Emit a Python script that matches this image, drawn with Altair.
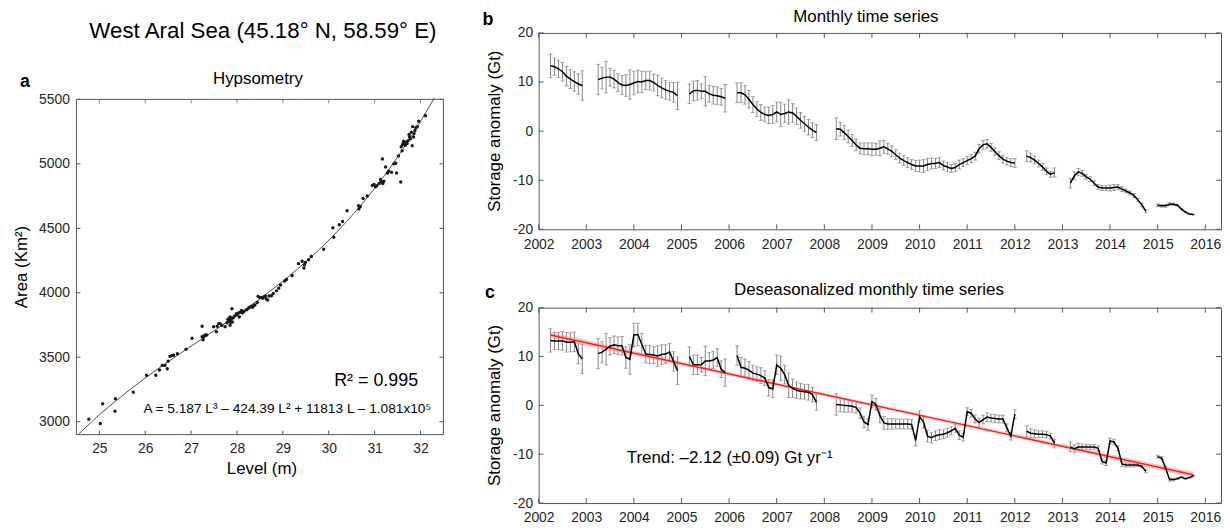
import altair as alt
import pandas as pd

FONT = "Liberation Sans"
INK = "#262626"
BOX = "#555555"
GRAY = "#858585"

# ---------------- panel a : hypsometry ----------------
LEVEL = [24.77, 25.02, 25.07, 25.34, 25.35, 25.74, 26.03, 26.23, 26.31, 26.37,
         26.43, 26.48, 26.50, 26.54, 26.59, 26.70, 26.89, 27.02, 27.24, 27.24,
         27.27, 27.26, 27.31, 27.34, 27.49, 27.55, 27.60, 27.63, 27.67, 27.74,
         27.78, 27.80, 27.83, 27.85, 27.85, 27.87, 27.89, 27.90, 27.92, 27.99,
         28.03, 28.05, 28.10, 28.15, 28.21, 28.28, 28.32, 28.34, 28.39, 28.46,
         28.50, 28.54, 28.59, 28.64, 28.67, 28.75, 28.79, 28.86, 28.91, 28.95,
         29.04, 29.08, 29.20, 29.34, 29.42, 29.46, 29.47, 29.56, 29.62, 29.89,
         30.09, 30.11, 30.23, 30.30, 30.40, 30.65, 30.66, 30.75, 30.84, 30.95,
         30.99, 31.02, 31.10, 31.13, 31.17, 31.18, 31.20, 31.24, 31.28, 31.31,
         31.37, 31.42, 31.46, 31.48, 31.52, 31.57, 31.58, 31.60, 31.63, 31.66,
         31.67, 31.71, 31.75, 31.78, 31.80, 31.82, 31.83, 31.85, 31.88, 31.93,
         31.96, 32.11,
         27.82, 27.86, 27.88, 27.95, 28.00, 28.07, 28.12, 28.25, 28.36, 28.44,
         28.56, 28.62, 28.70, 31.61, 31.64, 31.69, 31.73, 31.76, 31.86, 31.90,
         29.49, 30.69, 31.05, 31.15, 26.62, 27.28, 27.57]
AREA = [3020, 2987, 3140, 3081, 3178, 3228, 3360, 3360, 3401, 3437,
        3437, 3411, 3470, 3508, 3513, 3528, 3563, 3647, 3741, 3660,
        3655, 3635, 3673, 3673, 3736, 3698, 3761, 3761, 3749, 3736,
        3767, 3794, 3802, 3812, 3749, 3792, 3876, 3774, 3807, 3837,
        3843, 3812, 3863, 3855, 3868, 3888, 3893, 3888, 3906, 3972,
        3964, 3964, 3969, 3952, 3944, 3977, 3995, 4015, 4036, 4061,
        4091, 4104, 4134, 4226, 4244, 4193, 4218, 4256, 4282, 4338,
        4505, 4431, 4528, 4553, 4637, 4675, 4650, 4731, 4751, 4832,
        4840, 4822, 4848, 4878, 5038, 4848, 4865, 4975, 4929, 4942,
        4934, 5000, 5005, 4929, 5061, 4860, 5132, 5101, 5175, 5162,
        5145, 5157, 5228, 5195, 5246, 5140, 5289, 5208, 5259, 5289,
        5330, 5373,
        3780, 3770, 3800, 3820, 3830, 3850, 3845, 3880, 3900, 3925,
        3958, 3975, 3975, 5150, 5165, 5170, 5180, 5210, 5235, 5280,
        4235, 4670, 4830, 4860, 3515, 3665, 3740]
A_XTICKS = [25, 26, 27, 28, 29, 30, 31, 32]
A_YTICKS = [3000, 3500, 4000, 4500, 5000, 5500]
A_XRANGE = [24.5, 32.5]
A_YRANGE = [2900, 5500]

# ---------------- panels b, c : storage anomaly ----------------
SEG_START = [(2002, 4), (2003, 4), (2005, 3), (2006, 3), (2008, 4), (2012, 4), (2013, 3), (2015, 1)]
MONTHLY = [
    [13.3, 13.1, 12.7, 12.1, 11.2, 10.6, 10.1, 9.6, 9.3],
    [10.5, 10.8, 11.0, 11.0, 10.6, 9.9, 9.4, 9.3, 9.5, 9.8, 10.1, 10.0, 10.3, 10.3, 9.9, 9.3, 8.8, 8.4, 8.1, 7.9, 7.2],
    [7.6, 8.2, 8.3, 8.1, 8.1, 7.6, 7.3, 7.2, 7.0, 6.7],
    [7.8, 7.8, 7.4, 6.5, 5.4, 4.5, 3.8, 3.4, 3.2, 3.4, 3.9, 3.4, 3.6, 3.9, 3.7, 3.0, 2.2, 1.5, 0.8, 0.2, -0.3],
    [0.5, 0.4, -0.3, -1.1, -1.9, -2.8, -3.5, -3.6, -3.6,
     -3.7, -3.7, -3.5, -3.2, -3.6, -4.1, -4.8, -5.5, -6.0, -6.4, -6.8, -7.1,
     -7.1, -7.1, -6.8, -6.6, -6.6, -6.4, -7.0, -7.3, -7.6, -7.4, -6.8, -6.4,
     -6.0, -5.6, -5.1, -3.6, -2.8, -2.6, -3.3, -4.2, -5.0, -5.7, -6.1, -6.4,
     -6.5],
    [-5.1, -5.4, -5.9, -6.6, -7.3, -8.2, -8.8, -8.4],
    [-10.6, -9.1, -8.3, -8.6, -9.3, -9.8, -10.6, -11.4, -11.6, -11.6,
     -11.6, -11.5, -11.4, -11.8, -12.2, -12.6, -13.1, -14.0, -15.0, -16.3],
    [-15.1, -15.2, -15.2, -14.9, -14.9, -15.1, -15.9, -16.5, -16.9, -17.0],
]
DESEAS = [
    [13.3, 13.2, 13.2, 13.2, 12.9, 12.9, 13.0, 10.6, 9.5],
    [10.6, 10.9, 11.5, 12.1, 12.4, 12.2, 12.2, 9.8, 9.4, 14.4, 14.5, 12.5, 10.5, 10.4, 10.3, 10.1, 10.4, 10.5, 10.9, 9.0, 7.1],
    [10.0, 8.3, 8.3, 8.3, 9.1, 9.1, 9.3, 9.8, 7.4, 6.7],
    [10.2, 7.8, 7.6, 7.2, 6.6, 6.4, 6.1, 5.6, 3.6, 3.4, 8.3, 7.6, 6.3, 4.1, 3.5, 3.1, 2.9, 2.8, 2.7, 2.2, 0.6],
    [0.2, 0.1, 0.0, -0.1, -0.2, -0.4, -1.6, -3.4, -3.9,
     0.8, 0.2, -2.1, -3.6, -3.8, -3.8, -3.8, -3.8, -3.8, -3.8, -3.9, -7.2,
     -2.3, -3.4, -6.3, -6.6, -6.2, -6.0, -5.9, -5.6, -5.2, -4.7, -6.1, -6.5,
     -1.3, -1.6, -2.8, -3.5, -2.9, -2.4, -2.6, -2.7, -2.8, -2.8, -4.6, -6.3,
     -1.8],
    [-5.3, -5.7, -5.8, -5.9, -5.9, -6.0, -6.3, -7.8],
    [-8.5, -8.9, -8.5, -8.5, -8.5, -8.5, -8.5, -8.8, -11.5, -11.8,
     -7.3, -7.5, -8.8, -12.0, -12.2, -12.2, -12.2, -12.2, -12.5, -13.5],
    [-10.5, -10.8, -12.8, -15.2, -15.2, -15.0, -14.7, -15.0, -14.8, -14.4],
]
ERR = [
    [2.4, 1.75, 1.75, 1.9, 2.0, 1.9, 2.0, 2.1, 3.0],
    [3.1, 2.2, 3.2, 1.8, 1.8, 1.8, 1.9, 2.2, 3.0, 2.4, 2.3, 2.2, 1.8, 1.9, 1.7, 2.1, 2.0, 1.9, 1.8, 2.0, 2.8],
    [2.0, 2.0, 2.0, 1.5, 3.0, 1.7, 1.8, 1.8, 1.7, 2.8],
    [2.0, 2.0, 1.9, 1.8, 1.6, 1.5, 1.6, 1.5, 1.7, 1.8, 2.0, 2.5, 1.9, 2.5, 1.9, 1.7, 1.6, 1.5, 1.6, 1.5, 1.6],
    [2.2, 1.4, 1.4, 1.3, 1.2, 1.2, 1.1, 1.2, 1.2,
     1.3, 1.2, 1.5, 1.3, 1.1, 1.1, 1.0, 1.0, 1.0, 1.0, 1.0, 1.1,
     1.2, 1.3, 1.2, 1.1, 1.0, 1.0, 0.9, 0.9, 0.8, 0.8, 0.9, 0.8,
     0.8, 0.8, 0.8, 0.9, 0.9, 0.9, 0.8, 0.8, 0.8, 0.8, 0.8, 0.8,
     0.9],
    [1.1, 0.9, 0.8, 0.7, 0.7, 0.7, 0.6, 0.9],
    [1.0, 0.8, 0.7, 0.6, 0.5, 0.5, 0.5, 0.5, 0.5, 0.5, 0.6, 0.6, 0.5, 0.5, 0.4, 0.4, 0.4, 0.3, 0.3, 0.3],
    [0.3, 0.3, 0.3, 0.3, 0.25, 0.2, 0.15, 0.1, 0.1, 0.1],
]
TREND_T = [2002.25, 2015.75]
TREND_V = [14.4, -14.2]
BAND_T = [2002.25, 2005.5, 2009.0, 2012.5, 2015.75]
BAND_LO = [13.8, 7.15, -0.2, -7.65, -14.8]
BAND_HI = [15.0, 7.85, 0.4, -6.95, -13.6]
T_TICKS = list(range(2002, 2017))
T_RANGE = [2002, 2016.33]
S_TICKS = [-20, -10, 0, 10, 20]
S_RANGE = [-20, 20]

# ---------------- sizes (pixels) ----------------
WA = 370
HA_BOX = 338          # visible hypsometry box
HA = 405              # panel a view, aligned with the top of panel b
WB, HB, HC = 688, 198, 197
TL = 5

# panel a view runs higher than its box so its box starts lower than panel b
A_YDOMAIN = [A_YRANGE[0], A_YRANGE[0] + (A_YRANGE[1] - A_YRANGE[0]) * HA / HA_BOX]


def one(**kw):
    return alt.Chart(pd.DataFrame({k: [v] for k, v in kw.items()}))


def label(txt, x, y, size, weight="normal", angle=0, align="center"):
    return one(t=txt).mark_text(font=FONT, fontSize=size, fontWeight=weight, angle=angle,
                                align=align, baseline="middle", color="black").encode(
        text="t:N", x=alt.value(x), y=alt.value(y))


# shared encodings
AX_XA = alt.Axis(values=A_XTICKS, title=None, format="d", labelPadding=7)
AX_YA = alt.Axis(values=A_YTICKS, title=None, format="d", labelPadding=7)
SC_XA = alt.Scale(domain=A_XRANGE, nice=False, zero=False)
SC_YA = alt.Scale(domain=A_YDOMAIN, nice=False, zero=False)
AX_T = alt.Axis(values=T_TICKS, title=None, format="d", labelPadding=8)
AX_S = alt.Axis(values=S_TICKS, title=None, labelExpr="toString(datum.value)", labelPadding=6)
SC_T = alt.Scale(domain=T_RANGE, nice=False, zero=False)
SC_S = alt.Scale(domain=S_RANGE, nice=False, zero=False)


def XA(f):
    return alt.X(f, scale=SC_XA, axis=AX_XA)


def YA(f):
    return alt.Y(f, scale=SC_YA, axis=AX_YA)


def XT(f):
    return alt.X(f, scale=SC_T, axis=AX_T)


def YS(f):
    return alt.Y(f, scale=SC_S, axis=AX_S)


def inward_bs(w, h):
    xt = alt.Chart(pd.DataFrame({"v": T_TICKS}))
    yt = alt.Chart(pd.DataFrame({"v": S_TICKS}))
    kw = dict(color=BOX, strokeWidth=1)
    return [
        xt.mark_rule(**kw).encode(x=XT("v:Q"), y=alt.value(h), y2=alt.value(h - TL)),
        xt.mark_rule(**kw).encode(x=XT("v:Q"), y=alt.value(0), y2=alt.value(TL)),
        yt.mark_rule(**kw).encode(y=YS("v:Q"), x=alt.value(0), x2=alt.value(TL)),
        yt.mark_rule(**kw).encode(y=YS("v:Q"), x=alt.value(w - TL), x2=alt.value(w)),
    ]


# ---------------- panel a ----------------
a_df = pd.DataFrame({"L": LEVEL, "A": AREA})
pts = alt.Chart(a_df).mark_circle(size=12, color="#1a1a1a", opacity=1).encode(x=XA("L:Q"), y=YA("A:Q"))
fit = (alt.Chart(a_df)
       .transform_regression("L", "A", method="poly", order=3, extent=[24.4, 32.3])
       .mark_line(color="#1e1e1e", strokeWidth=0.8, clip=True)
       .encode(x=XA("L:Q"), y=YA("A:Q")))
r2 = one(x=30.12, y=3315, t="R² = 0.995").mark_text(
    font=FONT, fontSize=18, align="left", baseline="middle", color="black").encode(
    x=XA("x:Q"), y=YA("y:Q"), text="t:N")
eq = one(x=25.96, y=3100, t="A = 5.187 L³ – 424.39 L² + 11813 L – 1.081x10⁵").mark_text(
    font=FONT, fontSize=13.8, align="left", baseline="middle", color="black").encode(
    x=XA("x:Q"), y=YA("y:Q"), text="t:N")

top_df = one(y=A_YRANGE[1])
box_kw = dict(color=BOX, strokeWidth=1)
box_a = [
    top_df.mark_rule(**box_kw).encode(y=YA("y:Q"), x=alt.value(0), x2=alt.value(WA)),
    top_df.mark_rule(**box_kw).encode(y=alt.value(HA), x=alt.value(0), x2=alt.value(WA)),
    top_df.mark_rule(**box_kw).encode(y=YA("y:Q"), y2=alt.value(HA), x=alt.value(0)),
    top_df.mark_rule(**box_kw).encode(y=YA("y:Q"), y2=alt.value(HA), x=alt.value(WA)),
]
xt_a = alt.Chart(pd.DataFrame({"v": A_XTICKS, "top": [A_YRANGE[1]] * len(A_XTICKS)}))
yt_a = alt.Chart(pd.DataFrame({"v": A_YTICKS}))
ticks_a = [
    xt_a.mark_rule(**box_kw).encode(x=XA("v:Q"), y=alt.value(HA), y2=alt.value(HA - 4)),
    xt_a.mark_tick(orient="vertical", size=4, thickness=1, yOffset=2, color=BOX).encode(
        x=XA("v:Q"), y=YA("top:Q")),
    yt_a.mark_rule(**box_kw).encode(y=YA("v:Q"), x=alt.value(0), x2=alt.value(4)),
    yt_a.mark_rule(**box_kw).encode(y=YA("v:Q"), x=alt.value(WA - 4), x2=alt.value(WA)),
]
panel_a = alt.layer(
    fit, pts, r2, eq, *box_a, *ticks_a,
    label("West Aral Sea (45.18° N, 58.59° E)", 188, -2, 22.5),
    label("Hypsometry", 183, 46, 17),
    label("a", -52, 50, 18, weight="bold"),
    label("Area (Km²)", -55, HA - HA_BOX / 2, 17, angle=270),
    label("Level (m)", 187, HA + 35, 17),
).properties(width=WA, height=HA, view=alt.ViewBackground(stroke="transparent"))

# ---------------- panels b, c ----------------
rows = []
for s, ((yr, mo), mv, dv, ev) in enumerate(zip(SEG_START, MONTHLY, DESEAS, ERR)):
    for k, (m, d, e) in enumerate(zip(mv, dv, ev)):
        t = yr + (mo - 1 + k) / 12.0
        rows.append(dict(seg=s, t=t, m=m, d=d, m_lo=m - e, m_hi=m + e, d_lo=d - e, d_hi=d + e))
ts = pd.DataFrame(rows)


def series_layers(col, lo, hi):
    base = alt.Chart(ts)
    errs = [
        base.mark_rule(color=GRAY, strokeWidth=1).encode(x=XT("t:Q"), y=YS(f"{lo}:Q"), y2=f"{hi}:Q"),
        base.mark_tick(orient="horizontal", size=4, thickness=1, color=GRAY).encode(
            x=XT("t:Q"), y=YS(f"{lo}:Q")),
        base.mark_tick(orient="horizontal", size=4, thickness=1, color=GRAY).encode(
            x=XT("t:Q"), y=YS(f"{hi}:Q")),
    ]
    line = base.mark_line(color="black", strokeWidth=1.5).encode(
        x=XT("t:Q"), y=YS(f"{col}:Q"), detail="seg:N")
    return errs, line


err_b, line_b = series_layers("m", "m_lo", "m_hi")
panel_b = alt.layer(
    *err_b, line_b, *inward_bs(WB, HB),
    label("Monthly time series", 330, -16, 17),
    label("b", -51, -13, 18, weight="bold"),
    label("Storage anomaly (Gt)", -44, HB / 2, 17, angle=270),
).properties(width=WB, height=HB)

band = alt.Chart(pd.DataFrame({"bt": BAND_T, "lo": BAND_LO, "hi": BAND_HI})).mark_area(
    color="#f59a9a", opacity=0.55).encode(x=XT("bt:Q"), y=YS("lo:Q"), y2="hi:Q")
trend = alt.Chart(pd.DataFrame({"tt": TREND_T, "tv": TREND_V})).mark_line(
    color="#ff1e1e", strokeWidth=1.4).encode(x=XT("tt:Q"), y=YS("tv:Q"))
trend_txt = one(x=2003.85, y=-10.8, t="Trend: –2.12 (±0.09) Gt yr⁻¹").mark_text(
    font=FONT, fontSize=17, align="left", baseline="middle", color="black").encode(
    x=XT("x:Q"), y=YS("y:Q"), text="t:N")

err_c, line_c = series_layers("d", "d_lo", "d_hi")
panel_c = alt.layer(
    *err_c, band, trend, line_c, trend_txt, *inward_bs(WB, HC),
    label("Deseasonalized monthly time series", 333, -18, 17),
    label("c", -49, -15, 18, weight="bold"),
    label("Storage anomaly (Gt)", -44, HC / 2, 17, angle=270),
).properties(width=WB, height=HC)

right = alt.vconcat(panel_b, panel_c, spacing=28)
chart = alt.hconcat(panel_a, right, spacing=38).properties(
    padding={"left": 4, "top": -3, "right": 0, "bottom": 0}
).configure(font=FONT).configure_view(stroke=BOX, strokeWidth=1).configure_axis(
    grid=False, domain=False, ticks=False, tickSize=0, labelFont=FONT, labelFontSize=14,
    labelColor=INK, labelFlush=False)

chart.save("out.html", embed_options={"renderer": "svg", "actions": False})
